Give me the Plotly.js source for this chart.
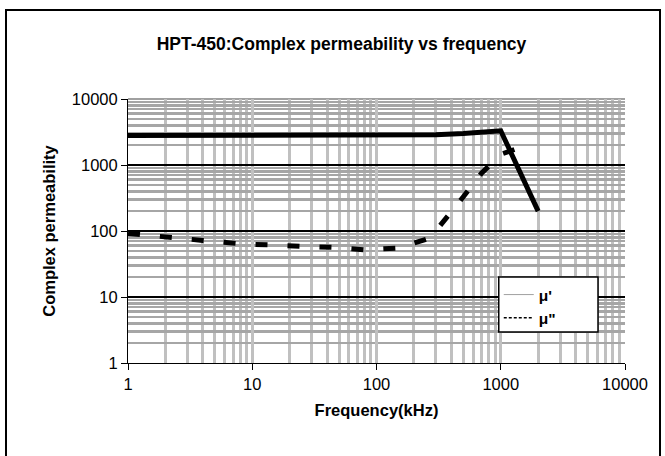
<!DOCTYPE html>
<html>
<head>
<meta charset="utf-8">
<script src="https://cdn.plot.ly/plotly-3.0.1.min.js"></script>
<style>
html,body{margin:0;padding:0;background:#fff;overflow:hidden;}
#wrap{position:relative;width:665px;height:456px;overflow:hidden;}
#chart{position:absolute;left:0;top:0;width:665px;height:456px;}
#frame{position:absolute;left:5px;top:9px;width:652px;height:460px;border:2px solid #000;pointer-events:none;}
</style>
</head>
<body>
<div id="wrap"><div id="chart"></div><div id="frame"></div></div>
<script>
// Data
const freqReal = [1, 2, 5, 10, 20, 50, 100, 200, 300, 500, 700, 1000, 2000];
const muReal   = [2800, 2800, 2800, 2800, 2800, 2800, 2820, 2840, 2870, 3000, 3150, 3300, 200];

const freqImag = [1, 2, 4, 8, 15, 30, 50, 80, 150, 250, 300, 400, 500, 700, 1000, 1500];
const muImag   = [92, 80, 72, 64, 60, 58, 56, 52, 55, 75, 100, 190, 330, 750, 1450, 1900];

const xTickVals = [1, 10, 100, 1000, 10000];
const xTickText = ['1', '10', '100', '1000', '10000'];
const yTickVals = [1, 10, 100, 1000, 10000];
const yTickText = ['1', '10', '100', '1000', '10000'];

const seriesNames = ["μ'", 'μ"'];

const FONT = 'Liberation Sans, Arial, sans-serif';
const FS = 16.5;

const traces = [
  {x: freqReal, y: muReal, mode: 'lines', name: seriesNames[0], showlegend: false,
   line: {color: '#000', width: 5}},
  {x: freqImag, y: muImag, mode: 'lines', name: seriesNames[1], showlegend: false,
   line: {color: '#000', width: 5, dash: '12px,20px'}},
  // legend entries (styled as in the reference legend)
  {x: [null], y: [null], mode: 'lines', name: seriesNames[0], showlegend: true,
   line: {color: '#a0a0a0', width: 1}},
  {x: [null], y: [null], mode: 'lines', name: seriesNames[1], showlegend: true,
   line: {color: '#000', width: 1.5, dash: '3px,2px'}}
];

const shapes = [
  // gray top border of the plot area (at the 10000 gridline)
  {type: 'line', xref: 'paper', x0: 0, x1: 1, yref: 'paper', y0: 1, y1: 1,
   layer: 'between', line: {color: '#a0a0a0', width: 2}},
  // legend box
  {type: 'rect', xref: 'paper', yref: 'paper', x0: 0.746, x1: 0.9457, y0: 0.1174, y1: 0.326,
   layer: 'above', fillcolor: '#fff', line: {color: '#000', width: 1.5}}
];

const layout = {
  width: 665, height: 456,
  margin: {l: 128, r: 40, t: 99, b: 93, pad: 0},
  paper_bgcolor: 'rgba(0,0,0,0)', plot_bgcolor: '#fff',
  font: {family: FONT, size: FS, color: '#000'},
  title: {text: '<b>HPT-450:Complex permeability vs frequency</b>',
          font: {family: FONT, size: 17.5, color: '#000'},
          x: 0.4296, xref: 'paper', xanchor: 'center', y: 0.9035, yref: 'container', yanchor: 'middle'},
  showlegend: true,
  legend: {x: 0.746, y: 0.322, xanchor: 'left', yanchor: 'top',
           bgcolor: 'rgba(0,0,0,0)', borderwidth: 0,
           font: {family: FONT, size: 15.5, color: '#000', weight: 'bold'},
           tracegroupgap: 0, itemwidth: 30},
  xaxis: {type: 'log', range: [0, 4], tickvals: xTickVals, ticktext: xTickText,
          ticks: 'outside', ticklen: 6, tickcolor: '#000', tickwidth: 1,
          showline: true, linecolor: '#000', linewidth: 1, mirror: false,
          showgrid: true, gridcolor: '#c0c0c0', gridwidth: 3,
          minor: {dtick: 'D1', showgrid: true, gridcolor: '#c0c0c0', gridwidth: 3, ticks: ''},
          tickfont: {family: FONT, size: FS, color: '#000'},
          title: {text: '<b>Frequency(kHz)</b>', font: {family: FONT, size: FS, color: '#000'}, standoff: 12},
          zeroline: false, fixedrange: true},
  yaxis: {type: 'log', range: [0, 4], tickvals: yTickVals, ticktext: yTickText,
          ticks: 'outside', ticklen: 6, tickcolor: '#000', tickwidth: 1,
          showline: true, linecolor: '#000', linewidth: 1,
          showgrid: true, gridcolor: '#000', gridwidth: 2.5,
          minor: {dtick: 'D1', showgrid: true, gridcolor: '#a6a6a6', gridwidth: 2.5, ticks: ''},
          tickfont: {family: FONT, size: FS, color: '#000'},
          title: {text: '<b>Complex permeability</b>', font: {family: FONT, size: FS, color: '#000'}, standoff: 12},
          zeroline: false, fixedrange: true},
  shapes: shapes
};

Plotly.newPlot('chart', traces, layout, {displayModeBar: false, staticPlot: true});
</script>
</body>
</html>
